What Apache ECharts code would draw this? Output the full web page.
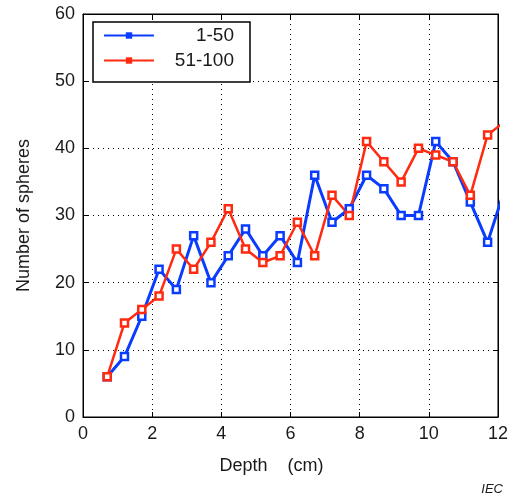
<!DOCTYPE html>
<html>
<head>
<meta charset="utf-8">
<script src="https://cdn.jsdelivr.net/npm/echarts@6/dist/echarts.min.js"></script>
<style>
  html, body { margin: 0; padding: 0; background: #fff; }
  #chart { width: 511px; height: 501px; }
</style>
</head>
<body>
<div id="chart"></div>
<script>
// Sampling depths (cm); last sample lies just beyond the plotted range
const depths = [0.7, 1.2, 1.7, 2.2, 2.7, 3.2, 3.7, 4.2, 4.7, 5.2, 5.7, 6.2,
                6.7, 7.2, 7.7, 8.2, 8.7, 9.2, 9.7, 10.2, 10.7, 11.2, 11.7, 12.2];
// Number of spheres counted at each depth
const spheres1to50   = [6, 9, 15, 22, 19, 27, 20, 24, 28, 24, 27, 23,
                        36, 29, 31, 36, 34, 30, 30, 41, 38, 32, 26, 34];
const spheres51to100 = [6, 14, 16, 18, 25, 22, 26, 31, 25, 23, 24, 29,
                        24, 33, 30, 41, 38, 35, 40, 39, 38, 33, 42, 44];
const seriesNames = ['1-50', '51-100'];
const xTicks = { min: 0, max: 12, interval: 2 };
const yTicks = { min: 0, max: 60, interval: 10 };

const BLUE = '#0a3cff';
const RED = '#ff2a10';
const FONT = 'Liberation Sans, Arial, sans-serif';
const INK = '#1a1a1a';

const pairs = (ys) => depths.map((d, i) => [d, ys[i]]);

const chart = echarts.init(document.getElementById('chart'), null, { renderer: 'canvas' });

const gridLine = { show: true, lineStyle: { color: '#000', width: 1, type: [1, 4] } };
const boxLine = { show: true, onZero: false, lineStyle: { color: '#000', width: 1 } };
const inTick = { show: true, inside: true, length: 5, lineStyle: { color: '#000' } };

function makeSeries(name, ys, color, width) {
  return {
    name: name,
    type: 'line',
    data: pairs(ys),
    clip: true,
    symbol: 'rect',
    symbolSize: 7,
    showAllSymbol: true,
    lineStyle: { color: color, width: width },
    itemStyle: { color: '#fff', borderColor: color, borderWidth: 2.5 },
    emphasis: { disabled: true },
    animation: false
  };
}

chart.setOption({
  animation: false,
  backgroundColor: '#fff',
  grid: { left: 83, top: 14, width: 417, height: 403, containLabel: false,
          show: true, borderColor: '#000', borderWidth: 1 },
  legend: {
    left: 93, top: 22,
    orient: 'vertical',
    backgroundColor: '#fff',
    borderColor: '#000', borderWidth: 1.5,
    padding: [4, 16, 12, 10],
    itemGap: 6,
    itemWidth: 50, itemHeight: 8,
    data: [
      { name: seriesNames[0], itemStyle: { color: BLUE, borderWidth: 0 } },
      { name: seriesNames[1], itemStyle: { color: RED, borderWidth: 0 } }
    ],
    formatter: (n) => '{t|' + n + '}',
    textStyle: {
      rich: { t: { width: 75, height: 18, align: 'right', fontSize: 19, fontFamily: FONT, color: INK } }
    }
  },
  xAxis: [{
    type: 'value', position: 'bottom',
    min: xTicks.min, max: xTicks.max, interval: xTicks.interval,
    axisLine: boxLine, axisTick: inTick, splitLine: gridLine,
    axisLabel: { color: INK, fontSize: 18, fontFamily: FONT, margin: 8 },
    name: 'Depth    (cm)', nameLocation: 'middle', nameGap: 40,
    nameTextStyle: { color: INK, fontSize: 18, fontFamily: FONT, padding: [0, 38, 0, 0] }
  }, {
    type: 'value', position: 'top',
    min: xTicks.min, max: xTicks.max, interval: xTicks.interval,
    axisLine: boxLine, axisTick: inTick, splitLine: { show: false },
    axisLabel: { show: false }
  }],
  yAxis: [{
    type: 'value', position: 'left',
    min: yTicks.min, max: yTicks.max, interval: yTicks.interval,
    axisLine: boxLine, axisTick: inTick, splitLine: gridLine,
    axisLabel: { color: INK, fontSize: 18, fontFamily: FONT, margin: 8 },
    name: 'Number of spheres', nameLocation: 'middle', nameGap: 50,
    nameTextStyle: { color: INK, fontSize: 18, fontFamily: FONT }
  }, {
    type: 'value', position: 'right',
    min: yTicks.min, max: yTicks.max, interval: yTicks.interval,
    axisLine: boxLine, axisTick: inTick, splitLine: { show: false },
    axisLabel: { show: false }
  }],
  series: [
    makeSeries(seriesNames[0], spheres1to50, BLUE, 3),
    makeSeries(seriesNames[1], spheres51to100, RED, 2.5)
  ],
  graphic: [{
    type: 'text', right: 8, top: 483,
    style: { text: 'IEC', font: 'italic 13px ' + FONT, fill: INK }
  }]
});
</script>
</body>
</html>
